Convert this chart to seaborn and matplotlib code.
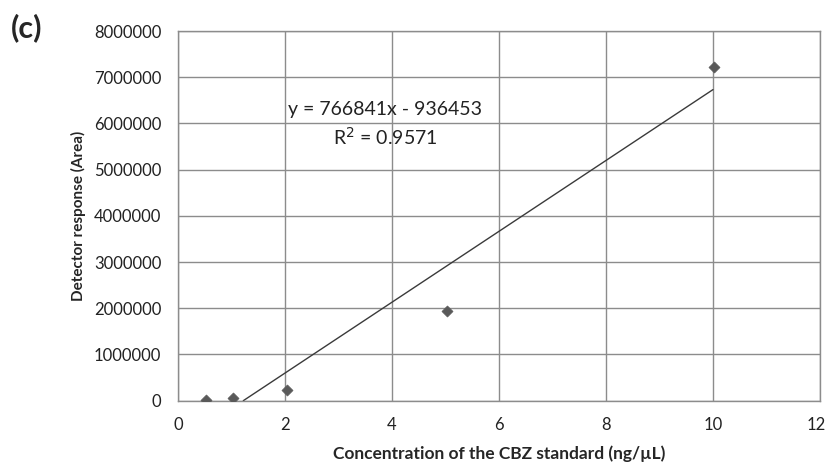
import matplotlib
matplotlib.use("Agg")
import matplotlib.pyplot as plt
import matplotlib.transforms as mtransforms
import seaborn as sns
import numpy as np
import pandas as pd

# Data
concentration = [0.53, 1.03, 2.04, 5.03, 10.02]
response = [15000, 52000, 232000, 1930000, 7220000]
slope = 766841
intercept = -936453
equation_label = "y = 766841x - 936453"
r2_label = "R$^2$ = 0.9571"
x_ticks = [0, 2, 4, 6, 8, 10, 12]
y_ticks = [0, 1000000, 2000000, 3000000, 4000000, 5000000, 6000000, 7000000, 8000000]

sns.set_style("white")
plt.rcParams['font.family'] = ['Lato', 'DejaVu Sans']

df = pd.DataFrame({"x": concentration, "y": response})

fig = plt.figure(figsize=(8.27, 4.63), dpi=100)
ax = fig.add_axes([0.2152, 0.1346, 0.7763, 0.7984])

grid_c = "#8c8c8c"
ax.set_xlim(0, 12)
ax.set_ylim(0, 8000000)
ax.set_xticks(x_ticks)
ax.set_yticks(y_ticks)
ax.set_xticklabels([str(t) for t in x_ticks])
ax.set_yticklabels([str(t) for t in y_ticks])
ax.grid(True, color=grid_c, linewidth=1.0)
ax.set_axisbelow(True)
for s in ax.spines.values():
    s.set_color(grid_c)
    s.set_linewidth(1.0)
ax.tick_params(axis='both', length=0, labelsize=12, colors="#222222")
ax.tick_params(axis='y', pad=12)
ax.tick_params(axis='x', pad=12)

# keep the last x tick label inside the canvas
last = ax.get_xticklabels()[-1]
last.set_transform(last.get_transform() + mtransforms.ScaledTranslation(-4 / 100, 0, fig.dpi_scale_trans))

# Trend line (clipped at y = 0 like the spreadsheet)
x0 = -intercept / slope
xs = np.array([x0, 10.0])
ax.plot(xs, slope * xs + intercept, color="#3a3a3a", linewidth=1.0, zorder=2)

sns.scatterplot(data=df, x="x", y="y", ax=ax, marker="D", s=32,
                color="#595959", edgecolor="#595959", zorder=3, legend=False)

ax.text(3.87, 6.30e6, equation_label, ha="center", va="center", fontsize=14, color="#222222")
ax.text(3.87, 5.70e6, r2_label, ha="center", va="center", fontsize=14, color="#222222")

ax.set_xlabel("Concentration of the CBZ standard (ng/\u00b5L)", fontsize=12.5, fontweight="bold",
              labelpad=9)
ax.set_ylabel("Detector response (Area)", fontsize=11, fontweight="bold", labelpad=6)

fig.text(0.013, 0.94, "(c)", fontsize=22, fontweight="bold", ha="left", va="center")

fig.savefig("out.png", dpi=100)
